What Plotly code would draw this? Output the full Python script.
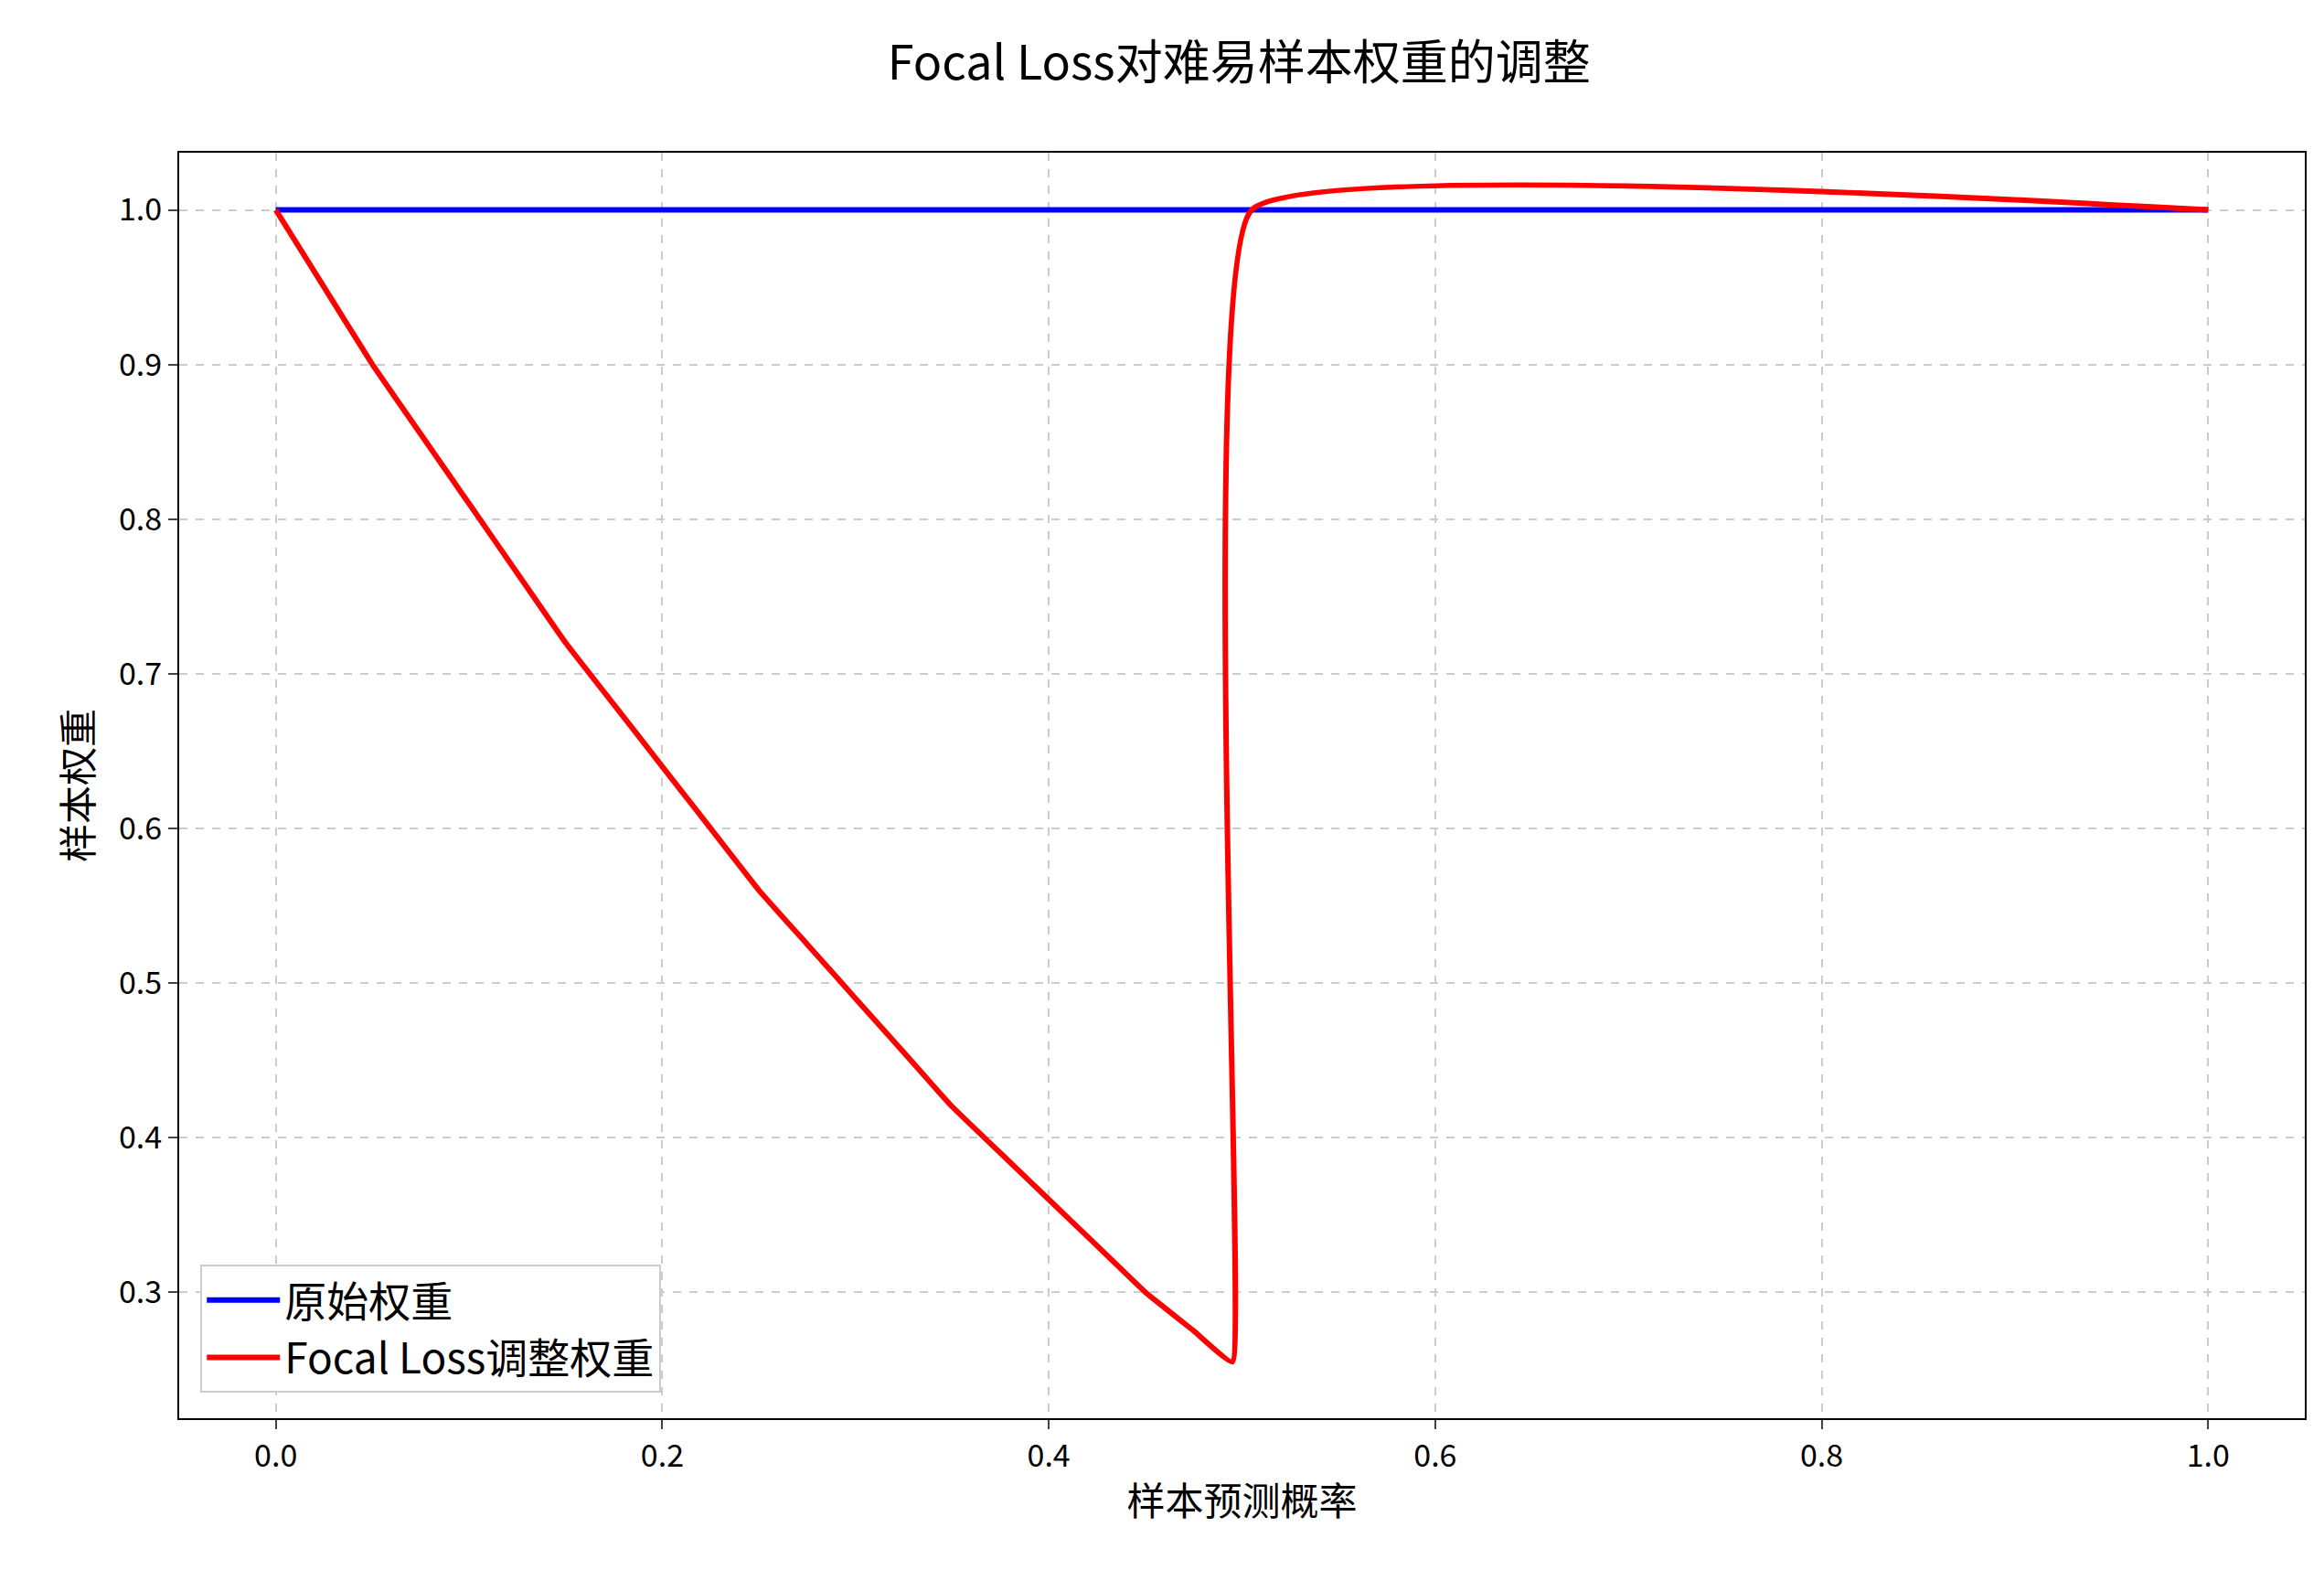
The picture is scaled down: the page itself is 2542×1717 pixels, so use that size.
import plotly.graph_objects as go

x_orig = [0.0, 1.0]
y_orig = [1.0, 1.0]
x_focal = [0.0, 0.025, 0.05, 0.075, 0.1, 0.125, 0.15, 0.175, 0.2, 0.225, 0.25, 0.275,
           0.3, 0.325, 0.35, 0.375, 0.4, 0.425, 0.45, 0.475, 0.495, 0.505, 1.0]
y_focal = [1.0, 0.95, 0.90, 0.855, 0.81, 0.765, 0.72, 0.68, 0.64, 0.60, 0.56, 0.525,
           0.49, 0.455, 0.42, 0.39, 0.36, 0.33, 0.30, 0.275, 0.255, 1.0, 1.0]
x_ticks = [0.0, 0.2, 0.4, 0.6, 0.8, 1.0]
y_ticks = [0.3, 0.4, 0.5, 0.6, 0.7, 0.8, 0.9, 1.0]

F = "Noto Sans CJK SC, DejaVu Sans"
fig = go.Figure()
fig.add_trace(go.Scatter(x=x_orig, y=y_orig, mode="lines", name="原始权重",
                         line=dict(color="blue", width=6)))
fig.add_trace(go.Scatter(x=x_focal, y=y_focal, mode="lines", name="Focal Loss调整权重",
                         line=dict(color="red", width=6, shape="spline", smoothing=0.3)))
ax = dict(showline=True, mirror=True, linecolor="black", linewidth=2, ticks="outside",
          ticklen=10, tickwidth=2, showgrid=True, gridcolor="#cccccc", griddash="dash",
          gridwidth=2, zeroline=False, tickfont=dict(size=34, family=F, color="black"))
fig.update_xaxes(**ax, range=[-0.05, 1.05], tickvals=x_ticks, tickformat=".1f",
                 title=dict(text="样本预测概率", font=dict(size=42, family=F, color="black")))
fig.update_yaxes(**ax, range=[0.2185, 1.037], tickvals=y_ticks, tickformat=".1f",
                 title=dict(text="样本权重", font=dict(size=42, family=F, color="black")))
fig.update_layout(
    width=2542, height=1717, plot_bgcolor="white", paper_bgcolor="white",
    margin=dict(l=188, r=29, t=159, b=174),
    title=dict(text="Focal Loss对难易样本权重的调整", x=0.53, xanchor="center", y=0.975,
               font=dict(size=52, family=F, color="black")),
    legend=dict(x=0.01, y=0.02, xanchor="left", yanchor="bottom", bgcolor="white",
                bordercolor="#cccccc", borderwidth=2, itemwidth=80,
                font=dict(size=46, family=F, color="black")),
)
fig.write_html("out.html")
